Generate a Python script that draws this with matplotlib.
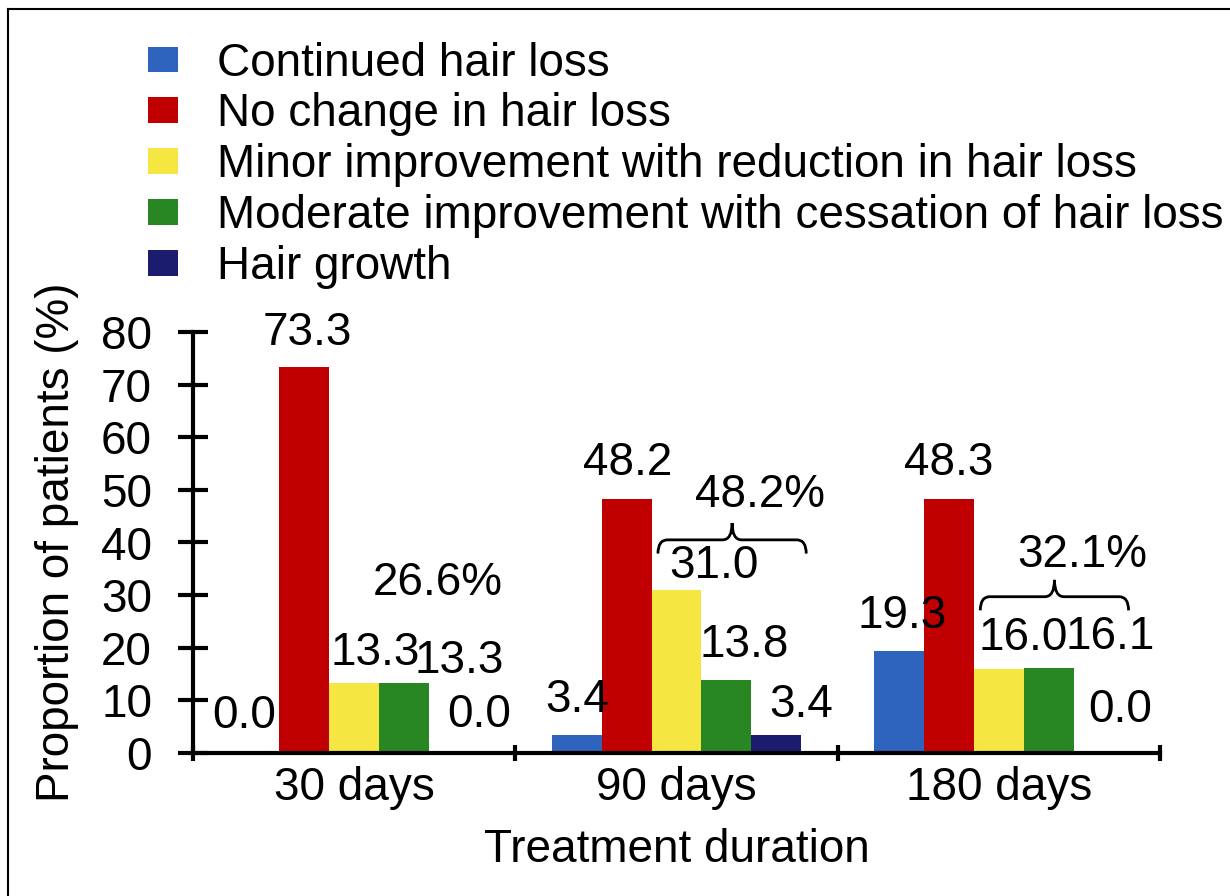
import numpy as np
import matplotlib.pyplot as plt
from matplotlib.path import Path
from matplotlib.patches import PathPatch
from matplotlib.lines import Line2D

durations = ["30 days", "90 days", "180 days"]
categories = ["Continued hair loss",
              "No change in hair loss",
              "Minor improvement with reduction in hair loss",
              "Moderate improvement with cessation of hair loss",
              "Hair growth"]
continued = [0.0, 3.4, 19.3]
no_change = [73.3, 48.2, 48.3]
minor = [13.3, 31.0, 16.0]
moderate = [13.3, 13.8, 16.1]
growth = [0.0, 3.4, 0.0]

colors = ["#2e64be", "#c00000", "#f5e642", "#288723", "#1c1c6e"]

# value labels were placed by hand in the original: (dx, dy) in pixels
nudges = [
    [(-10, 25), (3, 22), (21, 18), (55, 10), (25, 26)],
    [(1, 23), (1, 24), (37, 12), (18, 23), (25, 18)],
    [(3, 23), (0, 24), (24, 19), (61, 19), (21, 31)],
]
brace_y = [None, 40.5, 29.7]
total_y = [30.0, 46.8, 35.4]

FS = 33
plt.rcParams['font.family'] = ['Liberation Sans', 'DejaVu Sans']
plt.rcParams['font.size'] = FS

fig = plt.figure(figsize=(12.3, 8.96), dpi=100)
ax = fig.add_axes([193 / 1230, 1 - 753 / 896, 967 / 1230, 421 / 896])

series = [continued, no_change, minor, moderate, growth]
w = 0.155
x = np.arange(len(durations)) + 0.5
for k, (vals, name, c) in enumerate(zip(series, categories, colors)):
    xs = x + (k - 2) * w
    ax.bar(xs, vals, w, color=c, label=name, zorder=2)
    for g, (xi, v) in enumerate(zip(xs, vals)):
        dx, dy = nudges[g][k]
        ax.annotate(f"{v:.1f}", (xi, v), xytext=(dx, dy),
                    textcoords='offset pixels', ha='center', va='baseline')


def brace(ax, x0, x1, y, drop=2.6, rise=3.2, rx=0.03):
    xm = (x0 + x1) / 2
    verts = [(x0, y - drop), (x0, y), (x0 + rx, y),
             (xm - rx, y), (xm, y), (xm, y + rise),
             (xm, y), (xm + rx, y),
             (x1 - rx, y), (x1, y), (x1, y - drop)]
    codes = [Path.MOVETO, Path.CURVE3, Path.CURVE3,
             Path.LINETO, Path.CURVE3, Path.CURVE3,
             Path.CURVE3, Path.CURVE3,
             Path.LINETO, Path.CURVE3, Path.CURVE3]
    ax.add_patch(PathPatch(Path(verts, codes), fill=False, lw=2.0,
                           color='black', clip_on=False))


# improvement totals (minor + moderate + growth)
for g in range(len(durations)):
    total = minor[g] + moderate[g] + growth[g]
    if brace_y[g] is not None:
        brace(ax, x[g] - 0.5 * w + 0.02, x[g] + 2.5 * w + 0.015, brace_y[g])
    ax.text(g + 0.76, total_y[g], f"{total:.1f}%", ha='center', va='baseline')

ax.set_xlim(0, 3)
ax.set_ylim(0, 80)
for s in ['top', 'right']:
    ax.spines[s].set_visible(False)
for s in ['left', 'bottom']:
    ax.spines[s].set_linewidth(3)
    ax.spines[s].set_capstyle('projecting')
    ax.spines[s].set_zorder(3)

ax.set_yticks(range(0, 81, 10))
ax.tick_params(axis='y', direction='inout', length=21, width=3, pad=19, labelsize=FS)
ax.set_xticks([0, 1, 2, 3])
ax.set_xticklabels([])
ax.set_xticks(x, minor=True)
ax.set_xticklabels(durations, minor=True)
ax.tick_params(axis='x', which='major', direction='inout', length=12, width=3)
ax.tick_params(axis='x', which='minor', length=0, pad=9, labelsize=FS)

ax.set_ylabel("Proportion of patients (%)")
ax.yaxis.set_label_coords(-0.118, 0.5)
ax.set_xlabel("Treatment duration")
ax.xaxis.set_label_coords(0.5, -0.179)

fig.legend(loc='upper left', bbox_to_anchor=(0.1203, 0.9536), frameon=False,
           borderpad=0, borderaxespad=0, handlelength=0.655, handleheight=0.48,
           handletextpad=0.85, labelspacing=0.15, fontsize=FS)

# thin frame on the left and top of the image
fig.add_artist(Line2D([8 / 1230, 8 / 1230], [0, 1 - 9 / 896], color='black', lw=1.5,
                      transform=fig.transFigure))
fig.add_artist(Line2D([8 / 1230, 1], [1 - 9 / 896, 1 - 9 / 896], color='black', lw=1.5,
                      transform=fig.transFigure))

fig.savefig("out.png", dpi=100)
